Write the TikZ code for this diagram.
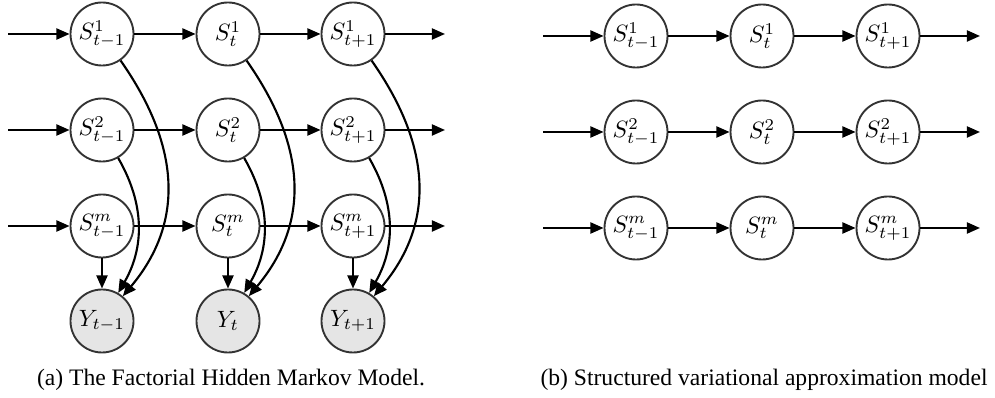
\documentclass[tikz,border=0pt]{standalone}
\usepackage[no-math]{fontspec}
\setmainfont{Liberation Serif}
\usetikzlibrary{arrows.meta}
\begin{document}
\begin{tikzpicture}[x=0.4237pt, y=0.4237pt,
  state/.style={circle, draw=black!80, line width=0.8pt, minimum size=26.7pt, inner sep=0pt, font=\normalsize},
  obs/.style={state, fill=black!10},
  arr/.style={line width=0.9pt, -{Triangle[length=5.6pt,width=4.7pt]}},
  caption/.style={anchor=base, inner sep=0pt, font=\fontsize{10}{12}\selectfont}]
\useasboundingbox (0,0) rectangle (995,-398);

% ---- (a) factorial HMM ----
\foreach \c/\x/\t in {a/102/{t-1}, b/228/t, c/353/{t+1}} {
  \node[state] (L1\c) at (\x,-34)  {$S^1_{\t}$};
  \node[state] (L2\c) at (\x,-130) {$S^2_{\t}$};
  \node[state] (Lm\c) at (\x,-226) {$S^m_{\t}$};
  \node[obs]   (Y\c)  at (\x,-321) {$Y_{\t}$};
}
\foreach \r/\y in {1/-34, 2/-130, m/-226} {
  \coordinate (Lin\r)  at (8,\y);
  \coordinate (Lout\r) at (445,\y);
  \draw[arr] (Lin\r) -- (L\r a);
  \draw[arr] (L\r a) -- (L\r b);
  \draw[arr] (L\r b) -- (L\r c);
  \draw[arr] (L\r c) -- (Lout\r);
}
\foreach \c in {a,b,c} {
  \draw[arr] (Lm\c) -- (Y\c);
  \draw[arr] (L1\c) to[out=-55, in=50, out distance=46.6pt, in distance=38.8pt] (Y\c);
  \draw[arr] (L2\c) to[out=-60, in=60, out distance=23.3pt, in distance=21.6pt] (Y\c);
}
\node[caption] (capa) at (231,-386) {(a) The Factorial Hidden Markov Model.};

% ---- (b) structured variational approximation ----
\foreach \c/\x/\t in {a/636/{t-1}, b/762/t, c/888/{t+1}} {
  \node[state] (R1\c) at (\x,-36)  {$S^1_{\t}$};
  \node[state] (R2\c) at (\x,-132) {$S^2_{\t}$};
  \node[state] (Rm\c) at (\x,-228) {$S^m_{\t}$};
}
\foreach \r/\y in {1/-36, 2/-132, m/-228} {
  \coordinate (Rin\r)  at (543,\y);
  \coordinate (Rout\r) at (980,\y);
  \draw[arr] (Rin\r) -- (R\r a);
  \draw[arr] (R\r a) -- (R\r b);
  \draw[arr] (R\r b) -- (R\r c);
  \draw[arr] (R\r c) -- (Rout\r);
}
\node[caption] (capb) at (764,-386) {(b) Structured variational approximation model};
\end{tikzpicture}
\end{document}
